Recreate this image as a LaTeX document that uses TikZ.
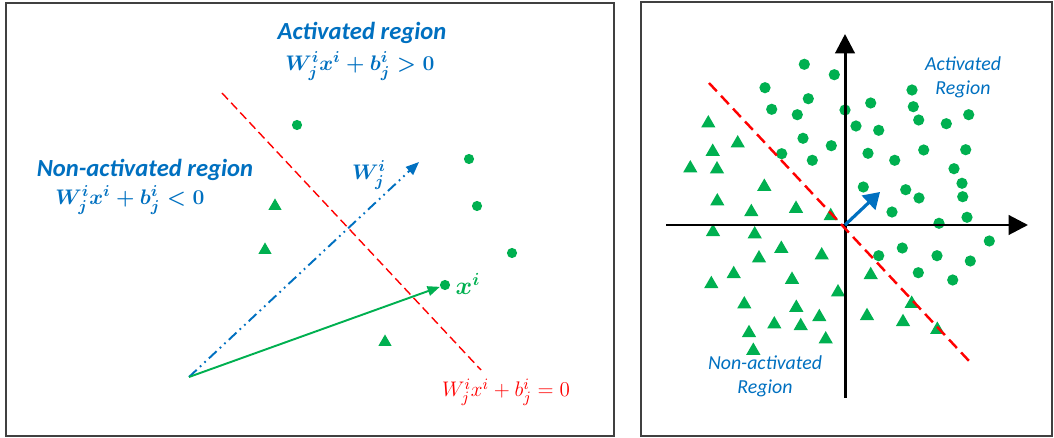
\documentclass[tikz,border=0pt]{standalone}
\usepackage{fontspec}
\setmainfont{Carlito}
\usetikzlibrary{arrows.meta,shapes.geometric}
\definecolor{mblue}{RGB}{0,112,192}
\definecolor{mgreen}{RGB}{0,176,80}
\definecolor{mred}{RGB}{255,0,0}
\tikzset{
  panel/.style={draw=black!75, line width=0.8pt},
  dotL/.style={circle, fill=mgreen, inner sep=0pt, minimum size=5.8pt},
  triL/.style={regular polygon, regular polygon sides=3, fill=mgreen, inner sep=0pt, minimum size=8.6pt},
  dotR/.style={circle, fill=mgreen, inner sep=0pt, minimum size=6.4pt},
  triR/.style={regular polygon, regular polygon sides=3, fill=mgreen, inner sep=0pt, minimum size=9.4pt},
  boldlab/.style={text=mblue, font=\fontsize{14}{16}\selectfont\bfseries\itshape},
  mathlab/.style={text=mblue, font=\fontsize{13}{15}\selectfont\boldmath},
  redlab/.style={text=mred, font=\fontsize{13}{15}\selectfont},
  itlab/.style={text=mblue, font=\fontsize{11.3}{13.6}\selectfont\itshape, align=center},
}
\begin{document}
\begin{tikzpicture}[x=0.02cm, y=-0.02cm]
\useasboundingbox (0,0) rectangle (1054,438);
% panels
\draw[panel] (6,3) rectangle (614,436);
\draw[panel] (641,2) rectangle (1052,436);

% ---------- left panel ----------
\node[boldlab] (act) at (362,33) {Activated region};
\node[mathlab] (actEq) at (360,66) {$W_j^i x^i + b_j^i > 0$};
\node[boldlab] (non) at (145,170) {Non-activated region};
\node[mathlab] (nonEq) at (130,200) {$W_j^i x^i + b_j^i < 0$};
\coordinate (rA) at (222,93);
\coordinate (rB) at (481,370);
\draw[mred, line width=0.8pt, dash pattern=on 5pt off 2.6pt] (rA) -- (rB);
\node[redlab] (redEq) at (506,392) {$W_j^i x^i + b_j^i = 0$};

\coordinate (o) at (189,377);
\coordinate (wtip) at (419,162);
\draw[mblue, line width=1.1pt, dash pattern=on 6pt off 2.5pt on 1pt off 2.5pt on 1pt off 2.5pt,
      -{Triangle[length=7.5pt,width=6pt]}] (o) -- (wtip);
\node[mathlab] (wlab) at (369,175) {$W_j^i$};

\node[dotL] (d1) at (297,125) {};
\node[dotL] (d2) at (469,159) {};
\node[dotL] (d3) at (477,206) {};
\node[dotL] (d4) at (512,253) {};
\node[dotL] (xi) at (445,285) {};
\node[triL] (t1) at (275,206) {};
\node[triL] (t2) at (265,250) {};
\node[triL] (t3) at (385,342) {};
\draw[mgreen, line width=1.1pt, -{Triangle[length=7pt,width=5.5pt]}] (o) -- (xi);
\node[text=mgreen, font=\fontsize{14}{16}\selectfont\boldmath] (xlab) at (468,284) {$x^i$};

% ---------- right panel ----------
\coordinate (O) at (845,225);
\coordinate (xl) at (666,225);
\coordinate (xr) at (1028,225);
\coordinate (yb) at (845,398);
\coordinate (yt) at (845,34);

\foreach \x/\y [count=\k] in {804.3/64.3, 834.3/74.7, 765/87.7, 808.3/98.7, 771.7/109.3, 797.3/114.7, 845/110, 870.7/103, 856/126, 878.7/130.3, 912/90, 913.3/106.7, 918.7/120, 946.3/123.7, 968.7/114.7, 803/138.3, 831.3/145.7, 781.7/153.7, 812.3/160.3, 868/153.3, 894.7/160.3, 923.7/150, 965.7/149.7, 954/168.7, 962/183.3, 962.7/196.7, 967/217.3, 863.3/187, 905.7/189.7, 919/198, 892/212, 939/223.3, 989.3/241, 878.7/255.7, 902.3/248, 937/255.7, 970.3/261, 918.3/272.7, 952.7/280}
  \node[dotR] (c\k) at (\x,\y) {};

\foreach \x/\y [count=\k] in {708.3/122.3, 737.7/142.3, 712.7/150.7, 690.3/167.3, 717/168.3, 764.3/185.7, 717.3/200.3, 751.3/211, 796/207.7, 830.7/215, 713/231, 754.7/233.3, 781.3/247.7, 759/257.3, 821.7/254.3, 733.7/273, 711.3/283, 792/278.7, 838/291.3, 870.7/274, 744.3/303.3, 796.3/306.7, 819.3/316, 774.3/323.3, 800.7/325, 749/332, 825.7/338.3, 753.3/349.7, 867/315, 903/321, 911.7/302.7, 937.3/328.7}
  \node[triR] (p\k) at (\x,\y+1) {};

\draw[line width=1.7pt, -{Triangle[length=11pt,width=11pt]}] (xl) -- (xr);
\draw[line width=1.7pt, -{Triangle[length=11pt,width=11pt]}] (yb) -- (yt);

\coordinate (dA) at (709,83);
\coordinate (dB) at (970,362);
\draw[mred, line width=1.4pt, dash pattern=on 6.5pt off 3.5pt] (dA) -- (dB);

\coordinate (bt) at (880,192);
\draw[mblue, line width=1.8pt, -{Triangle[length=9pt,width=11pt]}] (O) -- (bt);

\node[itlab] (actR) at (963,77) {Activated\\Region};
\node[itlab] (nonR) at (765,376) {Non-activated\\Region};
\end{tikzpicture}
\end{document}
